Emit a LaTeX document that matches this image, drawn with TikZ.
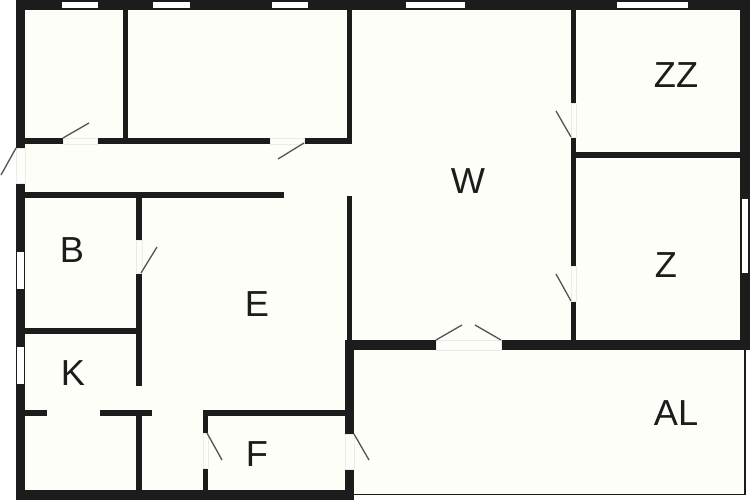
\documentclass[tikz,border=0pt]{standalone}
\usepackage{fontspec}
\setmainfont{Liberation Sans}
\definecolor{floorcol}{HTML}{FEFEF9}
\definecolor{wallcol}{HTML}{1C1C1C}
\definecolor{swingcol}{HTML}{555555}
\tikzset{
    wall/.style={fill=wallcol},
    opening/.style={fill=floorcol, draw=black!8, line width=0.3pt},
    glass/.style={fill=white},
    swing/.style={draw=swingcol, line width=0.75pt},
    room/.style={text=wallcol, inner sep=0pt, font=\fontsize{20.6}{24}\selectfont}
}
\begin{document}
\begin{tikzpicture}[x=0.02cm, y=-0.02cm]
    \useasboundingbox (0,0) rectangle (750,500);
    % Suelo
    \fill[floorcol] (16,0) -- (750,0) -- (750,350) -- (745,350) -- (745,495) -- (354,495) -- (354,500) -- (16,500) -- cycle;

    % Muros exteriores
    \fill[wall] (16,0) rectangle (750,10);
    \fill[wall] (16,0) rectangle (25,148);
    \fill[wall] (16,183) rectangle (25,500);
    \fill[wall] (740,0) rectangle (750,350);
    \fill[wall] (16,490) rectangle (354,500);
    \fill[wall] (345,340) rectangle (354,434);
    \fill[wall] (345,469) rectangle (354,500);
    \fill[wall] (345,340) rectangle (436,350);
    \fill[wall] (501,340) rectangle (750,350);
    % Balcon
    \draw[wallcol, line width=0.75pt] (745,350) -- (745,494.5) -- (354,494.5);

    % Tabiques verticales
    \fill[wall] (123,10) rectangle (128,144);
    \fill[wall] (347,10) rectangle (352,144);
    \fill[wall] (347,196) rectangle (352,341);
    \fill[wall] (136,198) rectangle (142,240);
    \fill[wall] (136,273) rectangle (142,386);
    \fill[wall] (136,416) rectangle (142,490);
    \fill[wall] (203,416) rectangle (208,433);
    \fill[wall] (203,468) rectangle (208,490);
    \fill[wall] (571,10) rectangle (576,103);
    \fill[wall] (571,137) rectangle (576,266);
    \fill[wall] (571,301) rectangle (576,340);
    % Tabiques horizontales
    \fill[wall] (25,138) rectangle (63,144);
    \fill[wall] (97,138) rectangle (270,144);
    \fill[wall] (304,138) rectangle (352,144);
    \fill[wall] (25,192) rectangle (284,198);
    \fill[wall] (25,328) rectangle (138,334);
    \fill[wall] (25,410) rectangle (47,416);
    \fill[wall] (100,410) rectangle (152,416);
    \fill[wall] (203,410) rectangle (345,416);
    \fill[wall] (576,152) rectangle (740,158);

    % Ventanas
    \fill[glass] (62,2) rectangle (98,8);
    \fill[glass] (153,2) rectangle (190,8);
    \fill[glass] (272,2) rectangle (308,8);
    \fill[glass] (406,2) rectangle (465,8);
    \fill[glass] (617,2) rectangle (688,8);
    \fill[glass] (17,252) rectangle (24,289);
    \fill[glass] (17,347) rectangle (24,384);
    \fill[glass] (742,199) rectangle (748,273);

    % Huecos de puerta
    \path[opening] (16,148) rectangle (25,183);
    \path[opening] (63,138) rectangle (97,144);
    \path[opening] (270,138) rectangle (304,144);
    \path[opening] (136,240) rectangle (142,273);
    \path[opening] (203,433) rectangle (208,468);
    \path[opening] (345,434) rectangle (354,469);
    \path[opening] (436,340) rectangle (501,350);
    \path[opening] (571,103) rectangle (576,137);
    \path[opening] (571,266) rectangle (576,301);

    % Hojas de puerta
    \draw[swing] (16,148) -- (1,175);
    \draw[swing] (63,138) -- (89,123);
    \draw[swing] (304,143) -- (278,159);
    \draw[swing] (141,273) -- (157,247);
    \draw[swing] (207,433) -- (222,460);
    \draw[swing] (354,434) -- (369,460);
    \draw[swing] (436,340) -- (462,325);
    \draw[swing] (501,340) -- (475,325);
    \draw[swing] (571,137) -- (556,111);
    \draw[swing] (571,301) -- (556,274);

    % Etiquetas de habitaciones
    \node[room] (roomZZ) at (676,75) {ZZ};
    \node[room] (roomW) at (468,181) {W};
    \node[room] (roomZ) at (666,265) {Z};
    \node[room] (roomB) at (72,250) {B};
    \node[room] (roomE) at (257,304) {E};
    \node[room] (roomK) at (73,373) {K};
    \node[room] (roomF) at (257,454) {F};
    \node[room] (roomAL) at (676,413) {AL};
\end{tikzpicture}
\end{document}
